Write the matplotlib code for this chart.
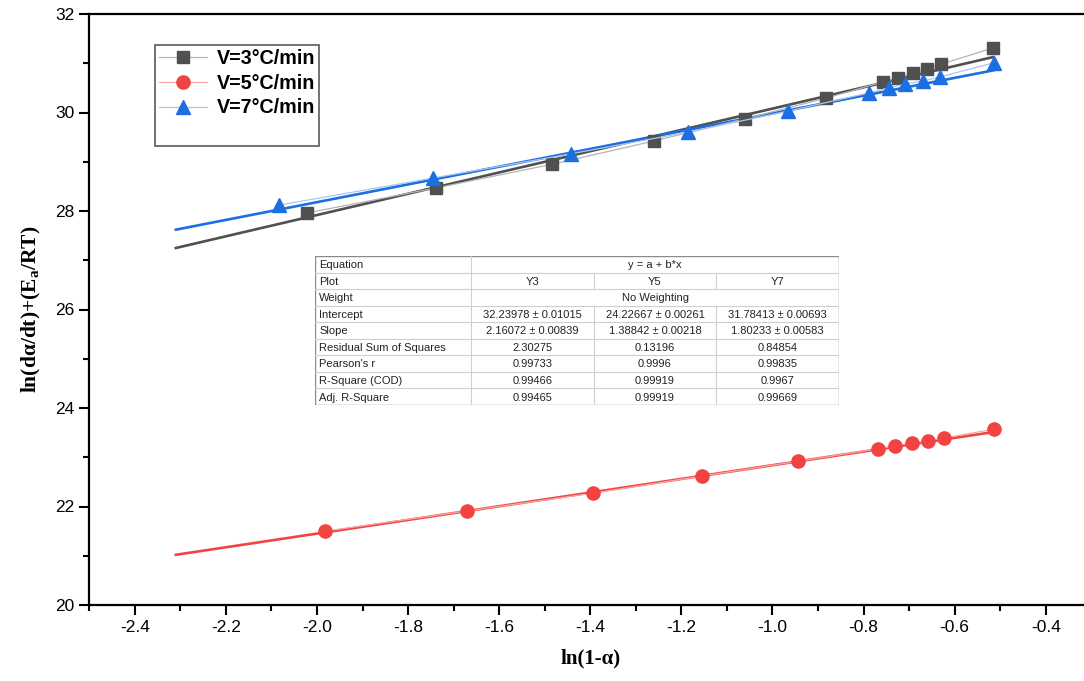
import matplotlib
matplotlib.use("Agg")
import matplotlib.pyplot as plt
from matplotlib.lines import Line2D
import numpy as np

plt.rcParams['font.family'] = ['Liberation Sans', 'DejaVu Sans']
plt.rcParams['mathtext.fontset'] = 'custom'
plt.rcParams['mathtext.rm'] = 'Liberation Serif:bold'
plt.rcParams['mathtext.bf'] = 'Liberation Serif:bold'

# ln(1-alpha) and ln(da/dt)+Ea/RT for each heating rate
x_v3 = [-2.022, -1.738, -1.483, -1.261, -1.061, -0.883, -0.758, -0.725, -0.692, -0.661, -0.630, -0.516]
y_v3 = [27.96, 28.47, 28.95, 29.42, 29.87, 30.29, 30.62, 30.70, 30.80, 30.88, 30.98, 31.31]

x_v5 = [-1.982, -1.670, -1.395, -1.154, -0.943, -0.769, -0.732, -0.694, -0.659, -0.624, -0.514]
y_v5 = [21.50, 21.91, 22.27, 22.62, 22.92, 23.17, 23.23, 23.29, 23.33, 23.39, 23.57]

x_v7 = [-2.083, -1.745, -1.443, -1.186, -0.965, -0.787, -0.745, -0.708, -0.670, -0.633, -0.514]
y_v7 = [28.12, 28.67, 29.16, 29.60, 30.03, 30.40, 30.50, 30.58, 30.64, 30.72, 31.01]

labels = ["V=3°C/min", "V=5°C/min", "V=7°C/min"]
plot_names = ["Y3", "Y5", "Y7"]

# linear fit results (y = a + b*x)
intercept = [32.23978, 24.22667, 31.78413]
intercept_err = [0.01015, 0.00261, 0.00693]
slope = [2.16072, 1.38842, 1.80233]
slope_err = [0.00839, 0.00218, 0.00583]
rss = ["2.30275", "0.13196", "0.84854"]
pearson_r = ["0.99733", "0.9996", "0.99835"]
r_square = ["0.99466", "0.99919", "0.9967"]
adj_r_square = ["0.99465", "0.99919", "0.99669"]
fit_start = -2.31

colors = ['#505050', '#f24343', '#1c6fe0']
light = ['#b4b4b4', '#f7a8a8', '#a9c6f2']
markers = ['s', 'o', '^']
msizes = [8.5, 9.5, 10.5]

W, H = 1084, 681
fig = plt.figure(figsize=(W / 100, H / 100), dpi=100)
ax = fig.add_axes([89.3 / W, 1 - 605 / H, 1002 / W, 591 / H])

series = [(x_v3, y_v3), (x_v5, y_v5), (x_v7, y_v7)]
handles = []
for i, (xs, ys) in enumerate(series):
    # data with thin connecting line
    h, = ax.plot(xs, ys, color=light[i], linewidth=0.9, marker=markers[i],
                 markersize=msizes[i], markerfacecolor=colors[i],
                 markeredgecolor=colors[i], zorder=3, label=labels[i])
    handles.append(h)
    # fitted line
    xf = np.array([fit_start, max(xs)])
    ax.plot(xf, intercept[i] + slope[i] * xf, color=colors[i], linewidth=1.9, zorder=2)

ax.set_xlim(-2.5, -0.3)
ax.set_ylim(20, 32)
ax.set_xticks(np.arange(-2.4, -0.39, 0.2))
ax.set_xticklabels([f"{v:.1f}" for v in np.arange(-2.4, -0.39, 0.2)])
ax.set_xticks(np.arange(-2.5, -0.29, 0.1), minor=True)
ax.set_yticks(np.arange(20, 33, 2))
ax.set_yticks(np.arange(21, 32, 2), minor=True)
ax.tick_params(which='major', direction='out', length=7, width=1.5, labelsize=12.5)
ax.tick_params(which='minor', direction='out', length=4, width=1.5)
for s in ax.spines.values():
    s.set_linewidth(1.6)

ax.set_xlabel("ln(1-α)", fontfamily='Liberation Serif', fontweight='bold', fontsize=15, labelpad=10)
ax.set_ylabel(r"ln(dα/dt)+(E$_\mathbf{a}$/RT)", fontfamily='Liberation Serif',
              fontweight='bold', fontsize=15.5, labelpad=9)

blank = Line2D([], [], linestyle='none')
leg = ax.legend(handles + [blank], labels + [" "], loc='upper left',
                bbox_to_anchor=(0.0656, 0.9475), borderaxespad=0, fancybox=False,
                edgecolor='#5a5a5a', framealpha=1, handlelength=2.4,
                prop={'weight': 'bold', 'size': 14.2}, labelspacing=0.28,
                borderpad=0.22, handletextpad=0.5)
leg.get_frame().set_linewidth(1.2)

# fit results table
tab = fig.add_axes([315 / W, 1 - 405 / H, 524 / W, 149 / H])
tab.set_xlim(0, 524)
tab.set_ylim(9, 0)
tab.axis('off')
tab.add_patch(plt.Rectangle((0, 0), 524, 9, facecolor='white', edgecolor='none', zorder=0))
col_edges = [0, 156, 279, 401, 524]
row_names = ["Equation", "Plot", "Weight", "Intercept", "Slope",
             "Residual Sum of Squares", "Pearson's r", "R-Square (COD)", "Adj. R-Square"]
cells = [
    None,
    plot_names,
    None,
    [f"{a:.5f} ± {e:.5f}" for a, e in zip(intercept, intercept_err)],
    [f"{b:.5f} ± {e:.5f}" for b, e in zip(slope, slope_err)],
    rss, pearson_r, r_square, adj_r_square,
]
merged = {0: "y = a + b*x", 2: "No Weighting"}
grid = '#cfcfcf'
for r in range(1, 9):
    tab.plot([0, 524], [r, r], color=grid, linewidth=0.8)
tab.plot([col_edges[1]] * 2, [0, 9], color=grid, linewidth=0.8)
for c in (2, 3):
    for r in range(9):
        if r not in merged:
            tab.plot([col_edges[c]] * 2, [r, r + 1], color=grid, linewidth=0.8)
tab.add_patch(plt.Rectangle((0, 0), 524, 9, facecolor='none', edgecolor='#8a8a8a', linewidth=1.0))
for r, name in enumerate(row_names):
    tab.text(4, r + 0.55, name, fontsize=8, va='center', ha='left', color='#222222')
    if r in merged:
        tab.text((col_edges[1] + col_edges[4]) / 2, r + 0.55, merged[r], fontsize=8,
                 va='center', ha='center', color='#222222')
    else:
        for c in range(3):
            tab.text((col_edges[c + 1] + col_edges[c + 2]) / 2, r + 0.55, cells[r][c],
                     fontsize=8, va='center', ha='center', color='#222222')

fig.savefig("out.png", dpi=100)
